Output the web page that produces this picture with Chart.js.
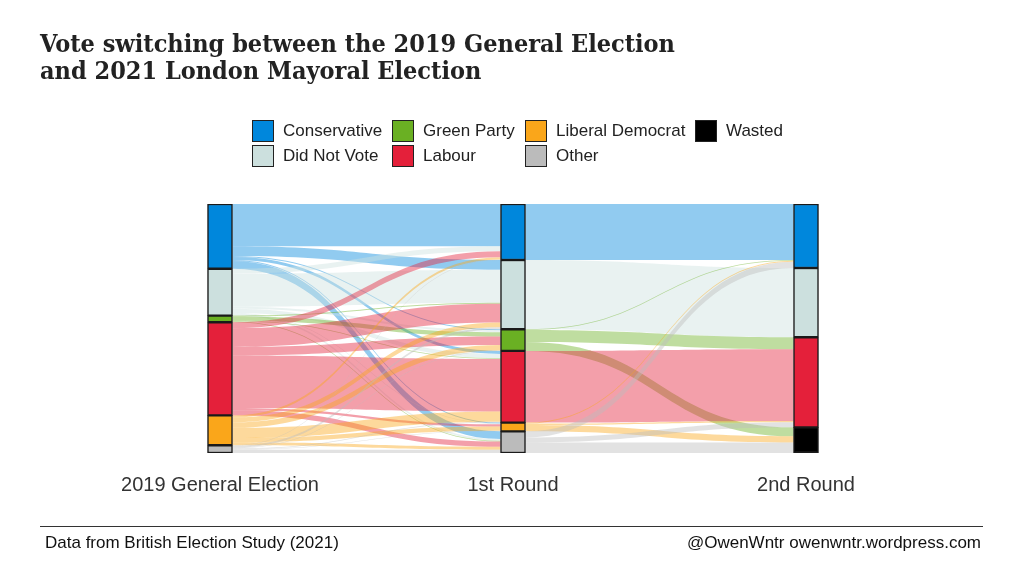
<!DOCTYPE html>
<html>
<head>
<meta charset="utf-8">
<script src="https://cdn.jsdelivr.net/npm/chart.js@4.4.1/dist/chart.umd.min.js"></script>
<style>
html,body{margin:0;padding:0;background:#fff;width:1023px;height:575px;overflow:hidden;font-family:"Liberation Sans",Arial,sans-serif;}
#wrap{position:relative;width:1023px;height:575px;}
#c{position:absolute;left:0;top:0;}
.title{position:absolute;left:40px;top:30px;font-family:"DejaVu Serif Condensed","DejaVu Serif",serif;font-weight:bold;font-size:25px;line-height:27px;color:#222;white-space:nowrap;}
.leg{position:absolute;height:22px;display:flex;align-items:center;font-size:17px;color:#222;white-space:nowrap;}
.key{width:20px;height:20px;border:1.5px solid #222;margin-right:9px;box-sizing:content-box;}
.rule{position:absolute;left:40px;top:526px;width:943px;height:1px;background:#333;}
.foot{position:absolute;top:533px;font-size:17px;color:#111;white-space:nowrap;}
</style>
</head>
<body>
<div id="wrap">
<canvas id="c" width="1023" height="575"></canvas>
<div class="title">Vote switching between the 2019 General Election<br>and 2021 London Mayoral Election</div>
<div id="legend"></div>
<div class="rule"></div>
<div class="foot" style="left:45px;">Data from British Election Study (2021)</div>
<div class="foot" style="right:42px;">@OwenWntr owenwntr.wordpress.com</div>
</div>
<script>
// ---- data (percent of respondents) ----
const columns = ["2019 General Election", "1st Round", "2nd Round"];
const parties = ["Conservative", "Did Not Vote", "Green Party", "Labour", "Liberal Democrat", "Other", "Wasted"];
const ge2019 = [26.0, 18.8, 2.7, 37.4, 12.0, 3.1, null];
const round1 = [22.5, 27.8, 8.7, 28.8, 3.5, 8.7, null];
const round2 = [25.7, 27.8, null, 36.2, null, null, 10.3];
// rows = origin party, columns = destination party (same order as parties)
const switchGeToR1 = [
  [17.0, 3.9, 0.4, 1.2, 0.4, 3.1, 0],
  [2.0, 13.3, 0.8, 1.7, 0.3, 0.7, 0],
  [0.0, 0.4, 1.7, 0.3, 0.0, 0.3, 0],
  [2.4, 7.5, 3.4, 21.1, 0.9, 2.1, 0],
  [0.9, 1.9, 2.2, 4.1, 1.7, 1.2, 0],
  [0.2, 0.8, 0.2, 0.4, 0.2, 1.3, 0]
];
const switchR1ToR2 = [
  [22.5, 0, 0, 0, 0, 0, 0],
  [0, 27.8, 0, 0, 0, 0, 0],
  [0.3, 0, 0, 4.8, 0, 0, 3.6],
  [0, 0, 0, 28.8, 0, 0, 0],
  [0.4, 0, 0, 0.6, 0, 0, 2.5],
  [2.5, 0, 0, 2.0, 0, 0, 4.2]
];
// legend layout: column-major, 2 rows
const legendOrder = [[0, 1], [2, 3], [4, 5], [6]];

// ---- styles ----
const palette = ["#0087DC", "#CCE0DE", "#6AB023", "#E4203A", "#FAA61A", "#BBBBBB", "#000000"];
const flowAlpha = 0.43;
const barW = 25;
function rgba(hex, a) {
  const n = parseInt(hex.slice(1), 16);
  return `rgba(${(n >> 16) & 255},${(n >> 8) & 255},${n & 255},${a})`;
}

// ---- legend (HTML) ----
const legX = [[252, 284], [392, 423], [525, 555], [695, 725]];
const legY = [120, 145];
const legEl = document.getElementById('legend');
legendOrder.forEach((col, ci) => {
  col.forEach((p, ri) => {
    const d = document.createElement('div');
    d.className = 'leg';
    d.style.left = legX[ci][0] + 'px';
    d.style.top = legY[ri] + 'px';
    d.innerHTML = `<span class="key" style="background:${palette[p]}"></span><span>${parties[p]}</span>`;
    legEl.appendChild(d);
  });
});

// ---- ribbons plugin ----
const nodeVals = [ge2019, round1, round2];
const switchMats = [switchGeToR1, switchR1ToR2];
function tops(vals) {
  let acc = 0;
  return vals.map(v => { const t = acc; acc += (v || 0); return t; });
}
const ribbons = {
  id: 'ribbons',
  beforeDatasetsDraw(chart) {
    const { ctx, scales: { x, y } } = chart;
    const half = barW / 2;
    switchMats.forEach((m, s) => {
      const srcTop = tops(nodeVals[s]);
      const dstTop = tops(nodeVals[s + 1]);
      const dep = m.map((row, i) => { let a = srcTop[i]; return row.map(v => { const t = a; a += v; return t; }); });
      const arr = m.map(r => r.map(() => 0));
      for (let j = 0; j < parties.length; j++) {
        let a = dstTop[j];
        for (let i = 0; i < m.length; i++) { arr[i][j] = a; a += m[i][j]; }
      }
      const x0 = x.getPixelForValue(s) + half;
      const x1 = x.getPixelForValue(s + 1) - half;
      const xm = (x0 + x1) / 2;
      ctx.save();
      for (let i = 0; i < m.length; i++) {
        for (let j = 0; j < parties.length; j++) {
          const v = m[i][j];
          if (!v) continue;
          const ya = y.getPixelForValue(dep[i][j]), yb = y.getPixelForValue(dep[i][j] + v);
          const yc = y.getPixelForValue(arr[i][j]), yd = y.getPixelForValue(arr[i][j] + v);
          ctx.beginPath();
          ctx.moveTo(x0, ya);
          ctx.bezierCurveTo(xm, ya, xm, yc, x1, yc);
          ctx.lineTo(x1, yd);
          ctx.bezierCurveTo(xm, yd, xm, yb, x0, yb);
          ctx.closePath();
          ctx.fillStyle = rgba(palette[i], flowAlpha);
          ctx.fill();
        }
      }
      ctx.restore();
    });
  }
};

// ---- chart ----
const datasets = parties.map((p, k) => ({
  label: p,
  data: [ge2019[k], round1[k], round2[k]],
  backgroundColor: palette[k],
  borderColor: '#1a1a1a',
  borderWidth: 1.5,
  borderSkipped: false,
  barThickness: barW
}));

new Chart(document.getElementById('c'), {
  type: 'bar',
  data: { labels: columns, datasets },
  plugins: [ribbons],
  options: {
    responsive: false,
    animation: false,
    devicePixelRatio: 1,
    layout: { padding: { left: 73.5, right: 70.5, top: 204, bottom: 58 } },
    plugins: { legend: { display: false }, tooltip: { enabled: false }, title: { display: false } },
    scales: {
      x: {
        stacked: true,
        grid: { display: false, drawTicks: false },
        border: { display: false },
        ticks: { color: '#333', font: { family: 'Liberation Sans', size: 20 }, padding: 20, maxRotation: 0, autoSkip: false }
      },
      y: { stacked: true, display: false, reverse: true, min: 0, max: 100 }
    }
  }
});
</script>
</body>
</html>
